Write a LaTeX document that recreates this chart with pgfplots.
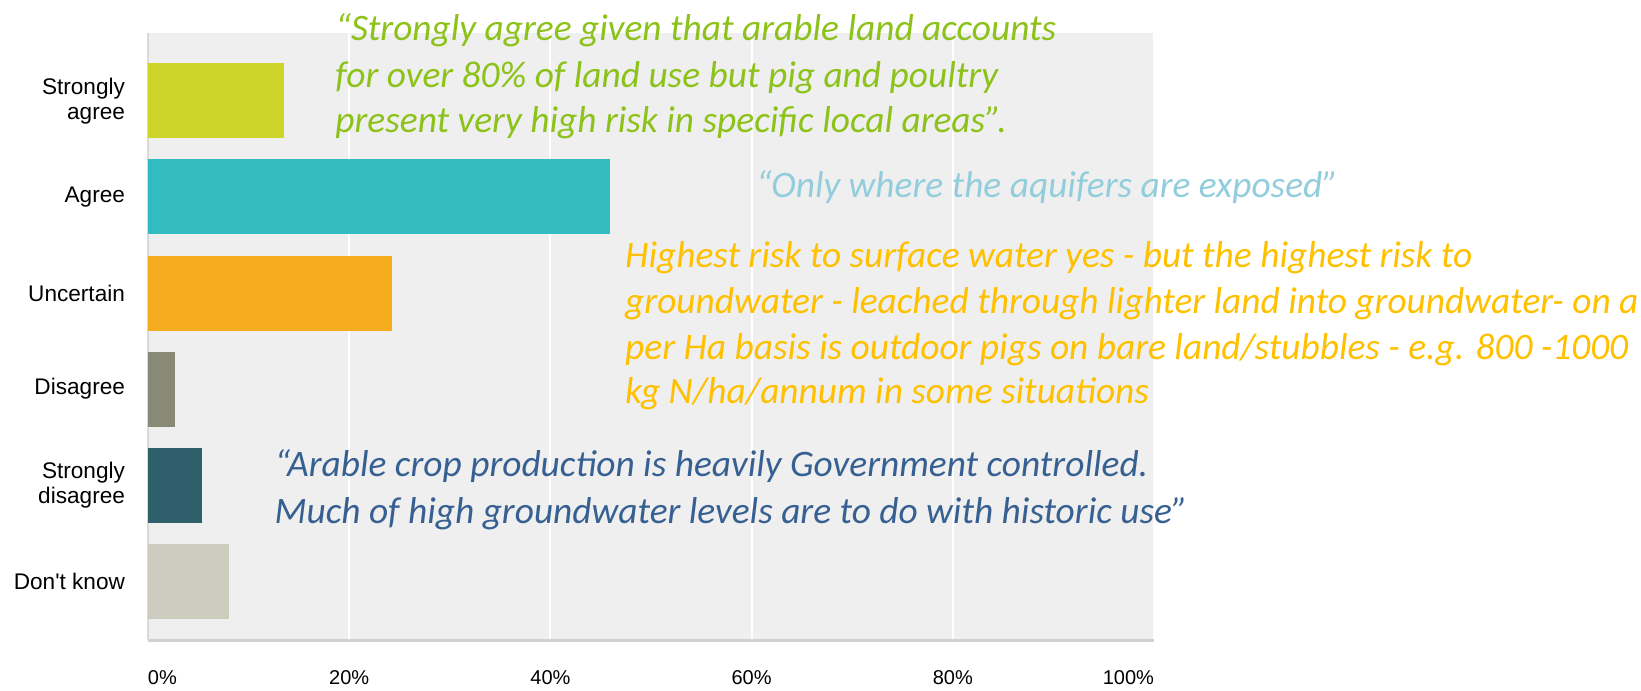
\documentclass[border=0pt]{standalone}
\usepackage{pgfplots}
\pgfplotsset{compat=1.18}
\usepackage{fontspec}
\setmainfont{Liberation Sans}
\newfontfamily\quotefont{Carlito}
\definecolor{bgc}{HTML}{EFEFEF}
\definecolor{csa}{HTML}{CDD42A}
\definecolor{cag}{HTML}{33BCBF}
\definecolor{cun}{HTML}{F5AD1F}
\definecolor{cdi}{HTML}{898978}
\definecolor{csd}{HTML}{2E5F6B}
\definecolor{cdk}{HTML}{CDCCBE}
\definecolor{qgreen}{HTML}{8CC21A}
\definecolor{qblue}{HTML}{92CDDC}
\definecolor{qorange}{HTML}{FFC000}
\definecolor{qdark}{HTML}{376092}
\begin{document}
\begin{tikzpicture}
\useasboundingbox (-74pt,-25pt) rectangle (746.5pt,320pt);
\begin{axis}[
  at={(0,0)}, anchor=south west,
  scale only axis, width=503pt, height=303.25pt,
  xmin=0, xmax=100, ymin=-0.7, ymax=5.61, y dir=reverse,
  axis background/.style={fill=bgc},
  axis x line*=bottom, axis y line*=left,
  x axis line style={draw=black!18, line width=1.5pt, -},
  y axis line style={draw=black!15, line width=1pt, -},
  xtick={0,20,40,60,80,100},
  xticklabels={\makebox[0pt][l]{0\%},20\%,40\%,60\%,80\%,\makebox[0pt][r]{100\%}},
  ytick={0,1,2,3,4,5},
  yticklabels={Strongly\\agree,Agree,Uncertain,Disagree,Strongly\\disagree,Don\textquotesingle t know},
  yticklabel style={align=right, font=\fontsize{11.3}{12.5}\selectfont, xshift=-8pt},
  xticklabel style={font=\fontsize{10}{12}\selectfont, yshift=-11.5pt},
  major tick length=0pt,
  xmajorgrids, major grid style={draw=white, line width=1pt},
  bar width=37.5pt,
  clip=false,
]
\addplot[xbar, fill=csa, draw=none] coordinates {(13.5,0)};
\addplot[xbar, fill=cag, draw=none] coordinates {(45.9,1)};
\addplot[xbar, fill=cun, draw=none] coordinates {(24.3,2)};
\addplot[xbar, fill=cdi, draw=none] coordinates {(2.7,3)};
\addplot[xbar, fill=csd, draw=none] coordinates {(5.4,4)};
\addplot[xbar, fill=cdk, draw=none] coordinates {(8.1,5)};
\end{axis}
\begin{scope}[every node/.style={anchor=base west, inner sep=0pt, font=\quotefont\itshape\fontsize{18.7}{23}\selectfont}]
\node[text=qgreen] at (93.5pt,299.7pt) {“Strongly agree given that arable land accounts};
\node[text=qgreen] at (93.5pt,276.4pt) {for over 80\% of land use but pig and poultry};
\node[text=qgreen] at (93.5pt,253.6pt) {present very high risk in specific local areas”.};
\node[text=qblue] at (303.8pt,221.4pt) {“Only where the aquifers are exposed”};
\node[text=qorange] at (238.4pt,186.1pt) {Highest risk to surface water yes - but the highest risk to};
\node[text=qorange] at (238.4pt,163.1pt) {groundwater - leached through lighter land into groundwater- on a};
\node[text=qorange] at (238.4pt,140.1pt) {per Ha basis is outdoor pigs on bare land/stubbles - e.g. 800 -1000};
\node[text=qorange] at (238.4pt,118.4pt) {kg N/ha/annum in some situations};
\node[text=qdark] at (63.1pt,81.5pt) {“Arable crop production is heavily Government controlled.};
\node[text=qdark] at (63.1pt,58.0pt) {Much of high groundwater levels are to do with historic use”};
\end{scope}
\end{tikzpicture}
\end{document}
